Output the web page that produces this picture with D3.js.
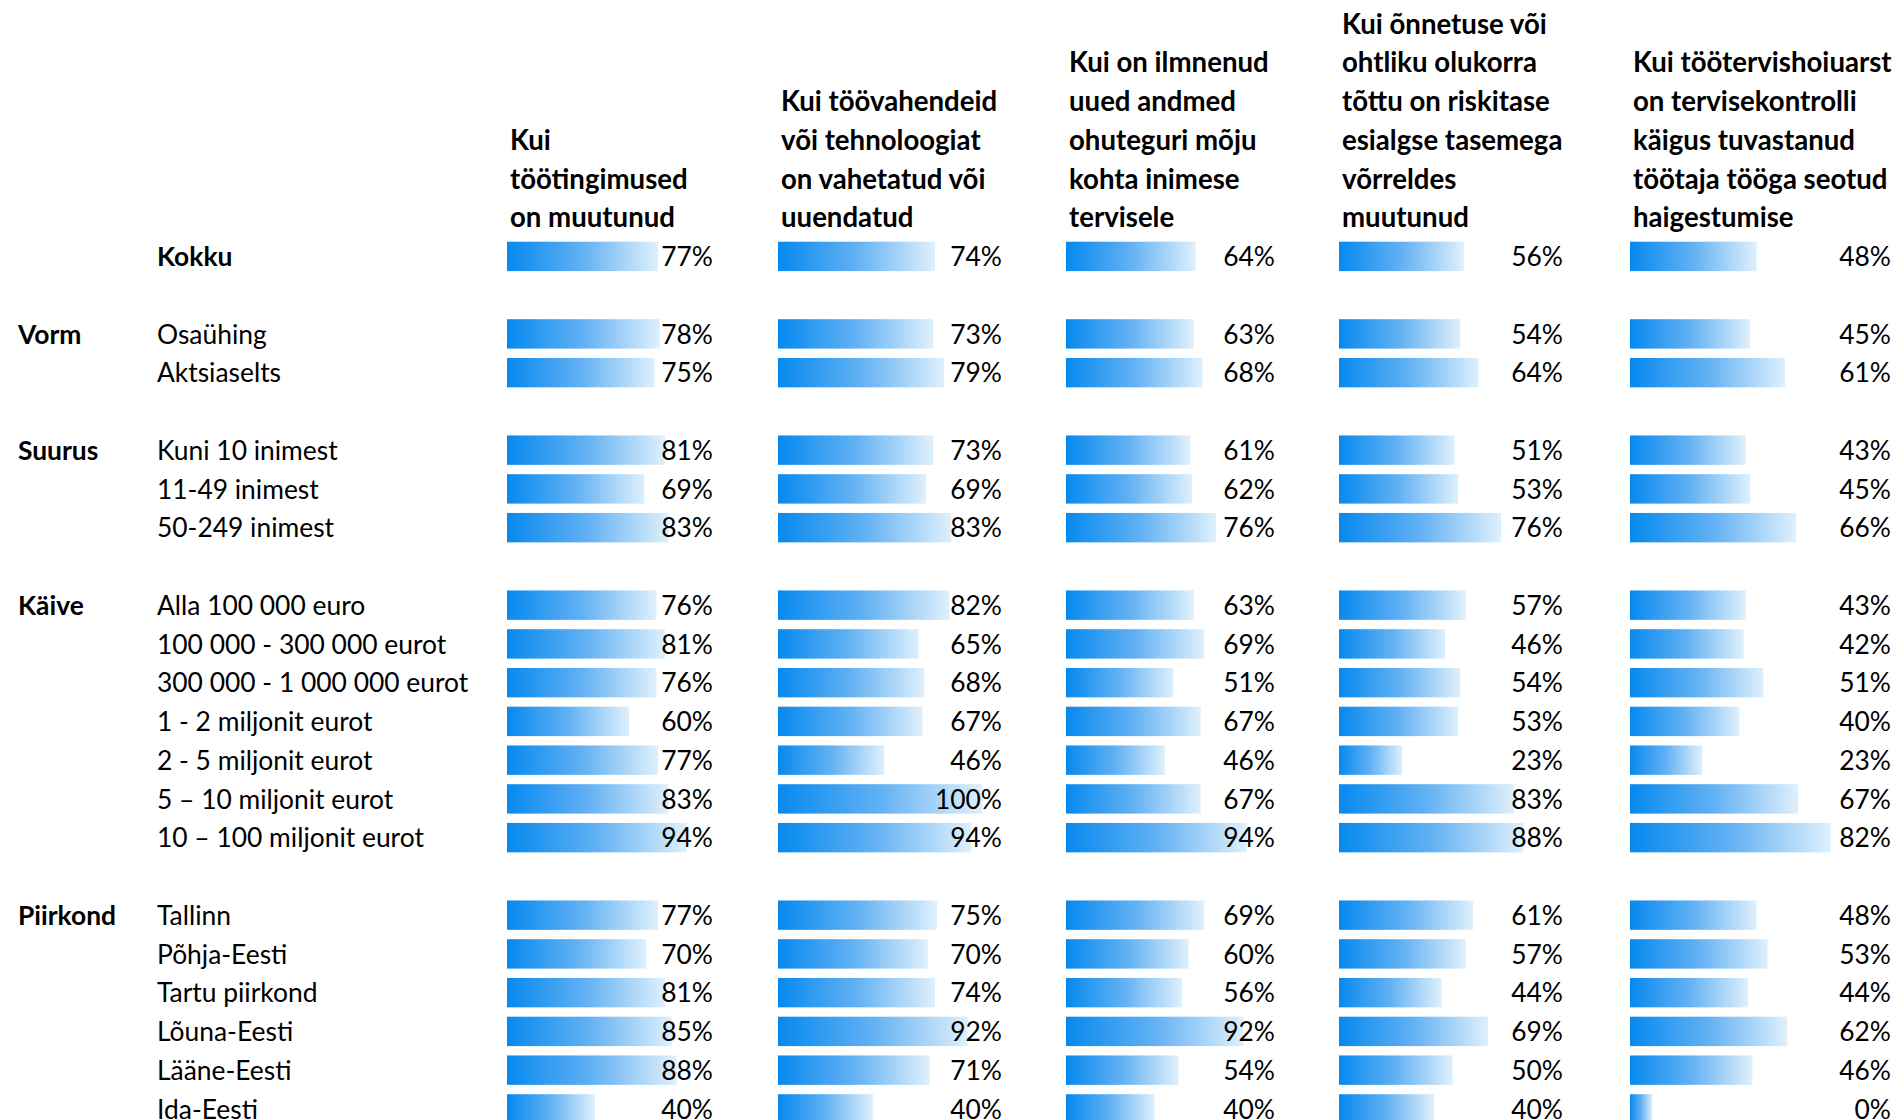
<!DOCTYPE html>
<html>
<head>
<meta charset="utf-8">
<script src="https://cdn.jsdelivr.net/npm/d3@7"></script>
<style>
  body { margin: 0; background: #fff; }
  svg { display: block; font-family: Lato, 'Open Sans', sans-serif; }
</style>
</head>
<body>
<svg></svg>
<script>
const groupLabels = ['', 'Vorm', 'Suurus', 'Käive', 'Piirkond'];
const groupSizes = [1, 2, 3, 7, 6];
const rowLabels = [
    'Kokku',
    'Osaühing', 'Aktsiaselts',
    'Kuni 10 inimest', '11-49 inimest', '50-249 inimest',
    'Alla 100 000 euro', '100 000 - 300 000 eurot', '300 000 - 1 000 000 eurot',
    '1 - 2 miljonit eurot', '2 - 5 miljonit eurot', '5 – 10 miljonit eurot', '10 – 100 miljonit eurot',
    'Tallinn', 'Põhja-Eesti', 'Tartu piirkond', 'Lõuna-Eesti', 'Lääne-Eesti', 'Ida-Eesti'
];
const headers = [
    ['Kui', 'töötingimused', 'on muutunud'],
    ['Kui töövahendeid', 'või tehnoloogiat', 'on vahetatud või', 'uuendatud'],
    ['Kui on ilmnenud', 'uued andmed', 'ohuteguri mõju', 'kohta inimese', 'tervisele'],
    ['Kui õnnetuse või', 'ohtliku olukorra', 'tõttu on riskitase', 'esialgse tasemega', 'võrreldes', 'muutunud'],
    ['Kui töötervishoiuarst', 'on tervisekontrolli', 'käigus tuvastanud', 'töötaja tööga seotud', 'haigestumise']
];
const tootingimused = [77, 78, 75, 81, 69, 83, 76, 81, 76, 60, 77, 83, 94, 77, 70, 81, 85, 88, 40];
const toovahendid = [74, 73, 79, 73, 69, 83, 82, 65, 68, 67, 46, 100, 94, 75, 70, 74, 92, 71, 40];
const ohutegur = [64, 63, 68, 61, 62, 76, 63, 69, 51, 67, 46, 67, 94, 69, 60, 56, 92, 54, 40];
const onnetus = [56, 54, 64, 51, 53, 76, 57, 46, 54, 53, 23, 83, 88, 61, 57, 44, 69, 50, 40];
const haigestumine = [48, 45, 61, 43, 45, 66, 43, 42, 51, 40, 23, 67, 82, 48, 53, 44, 62, 46, 0];

const series = [tootingimused, toovahendid, ohutegur, onnetus, haigestumine];

const width = 1896;
const height = 1120;
const fontSize = 26.4;
const headFontSize = 27.6;
const rowHeight = 38.75;
const firstRowY = 256.4;
const barHeight = 29.4;
const baselineShift = 9.6;

// per column: bar start, full cell bar width, right edge of value label
const colX = [507, 778, 1066, 1339, 1630];
const colW = [200, 227, 201, 205, 223];
const colRight = [713, 1002, 1275, 1563, 1891];

const svg = d3.select('svg')
    .attr('width', width)
    .attr('height', height)
    .style('font-size', fontSize + 'px');

svg.append('rect')
    .attr('width', width)
    .attr('height', height)
    .attr('fill', '#fff');

const grad = svg.append('defs')
    .append('linearGradient')
    .attr('id', 'bar');
grad.append('stop').attr('offset', '0%').attr('stop-color', '#0689ef');
grad.append('stop').attr('offset', '50%').attr('stop-color', '#62b1f3');
grad.append('stop').attr('offset', '100%').attr('stop-color', '#dff0fc');

// slot index of every row, with an empty row after each group
const slots = [];
const groupStart = [];
let s = 0;
groupSizes.forEach(n => {
    groupStart.push(s);
    for (let i = 0; i < n; i++) slots.push(s++);
    s++;
});

const y = d3.scaleLinear()
    .domain([0, 1])
    .range([firstRowY, firstRowY + rowHeight]);

// row labels
svg.append('g')
    .selectAll('text')
    .data(rowLabels)
    .join('text')
    .attr('x', 157)
    .attr('y', (d, i) => y(slots[i]) + baselineShift)
    .attr('font-weight', (d, i) => i === 0 ? 'bold' : 'normal')
    .text(d => d);

svg.append('g')
    .selectAll('text')
    .data(groupLabels)
    .join('text')
    .attr('x', 18)
    .attr('y', (d, i) => y(groupStart[i]) + baselineShift)
    .attr('font-weight', 'bold')
    .text(d => d);

series.forEach((values, c) => {
    const x = d3.scaleLinear()
        .domain([0, d3.max(values)])
        .range([colW[c] * 0.1, colW[c] * 0.9]);

    const g = svg.append('g')
        .attr('transform', 'translate(' + colX[c] + ',0)');

    g.selectAll('rect')
        .data(values)
        .join('rect')
        .attr('x', 0)
        .attr('y', (d, i) => y(slots[i]) - barHeight / 2)
        .attr('width', d => x(d))
        .attr('height', barHeight)
        .attr('fill', 'url(#bar)');

    g.selectAll('text.value')
        .data(values)
        .join('text')
        .attr('class', 'value')
        .attr('x', colRight[c] - colX[c])
        .attr('y', (d, i) => y(slots[i]) + baselineShift)
        .attr('text-anchor', 'end')
        .text(d => d + '%');

    const lines = headers[c];
    g.selectAll('text.head')
        .data(lines)
        .join('text')
        .attr('class', 'head')
        .attr('x', 3)
        .attr('y', (d, j) => y(j - lines.length) + baselineShift)
        .attr('font-weight', 'bold')
        .style('font-size', headFontSize + 'px')
        .text(d => d);
});
</script>
</body>
</html>
